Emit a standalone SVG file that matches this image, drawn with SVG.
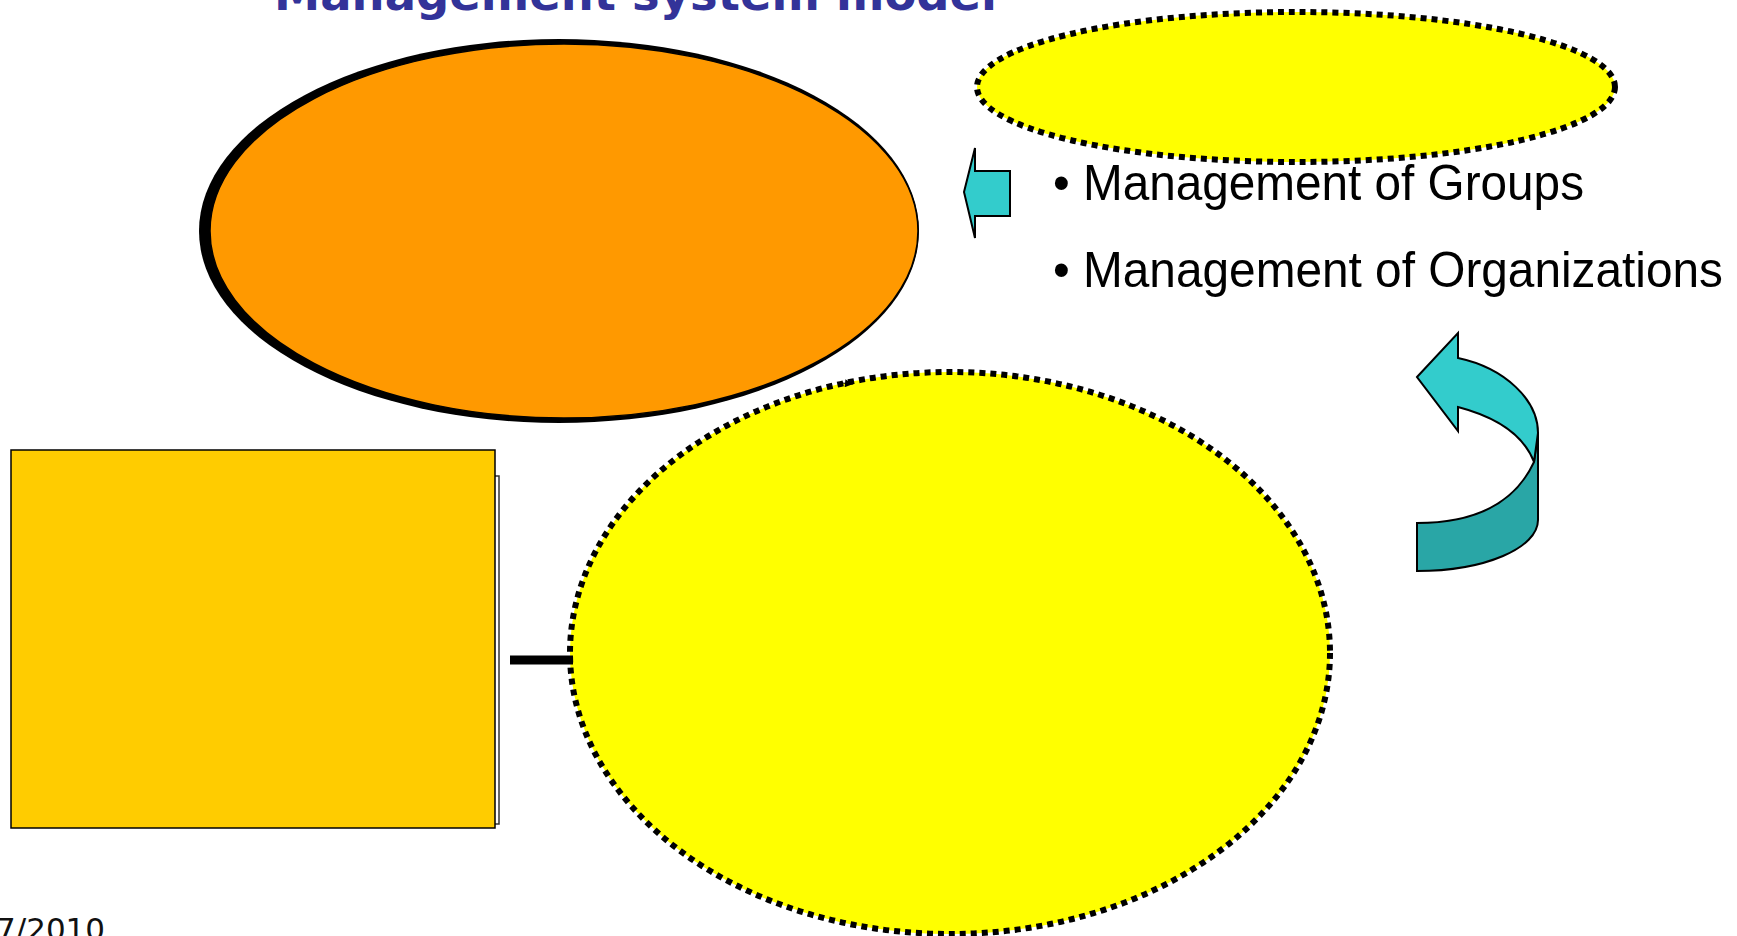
<svg xmlns="http://www.w3.org/2000/svg" width="1737" height="936" viewBox="0 0 1737 936">
<style>
.dot{fill:#FFFF00;stroke:#000;stroke-width:6;stroke-dasharray:6 5}
.cy{fill:#33CCCC;stroke:#000;stroke-width:2;stroke-linejoin:miter}
.bul{font-family:"Liberation Sans",Arial,sans-serif;font-size:50px;fill:#000}
</style>
<defs>
<marker id="ah" viewBox="0 0 10 10" refX="10" refY="5" markerWidth="10" markerHeight="8" markerUnits="userSpaceOnUse" orient="auto">
<path d="M0,0 L10,5 L0,10 Z" fill="#000"/>
</marker>
</defs>
<rect width="1737" height="936" fill="#fff"/>
<text x="274" y="10" font-family="'DejaVu Sans',Verdana,sans-serif" font-weight="bold" font-size="46" fill="#333399" textLength="723" lengthAdjust="spacingAndGlyphs">Management system model</text>
<g id="orange-ellipse">
<ellipse cx="559" cy="231" rx="360" ry="192" fill="#000"/>
<ellipse cx="564" cy="231" rx="354" ry="187" fill="#FF9900" stroke="#000" stroke-width="1.5"/>
</g>
<g id="top-yellow-ellipse">
<ellipse class="dot" cx="1296" cy="87" rx="319" ry="75"/>
</g>
<g id="left-arrow">
<path class="cy" d="M964,192 L975,148 L975,171 L1010,171 L1010,216 L975,216 L975,238 Z"/>
</g>
<g id="bullets">
<text class="bul" x="1053" y="200" textLength="531" lengthAdjust="spacingAndGlyphs">• Management of Groups</text>
<text class="bul" x="1053" y="287" textLength="670" lengthAdjust="spacingAndGlyphs">• Management of Organizations</text>
</g>
<g id="u-turn-arrow">
<path d="M1538,433 L1534,462 C1515,503 1475,523 1417,523 L1417,571 C1485,571 1538,548 1538,520 Z" fill="#29A6A6" stroke="#000" stroke-width="2"/>
<path class="cy" d="M1417,377 L1458,333 L1458,358 C1505,368 1538,400 1538,433 L1534,462 C1524,436 1500,418 1458,407 L1458,431 Z"/>
</g>
<g id="rect-node">
<rect x="20" y="476" width="479" height="348" fill="#fff" stroke="#333" stroke-width="1.5"/>
<rect x="11" y="450" width="484" height="378" fill="#FFCC00" stroke="#000" stroke-width="1.5"/>
</g>
<g id="big-yellow-circle">
<ellipse class="dot" cx="950" cy="653" rx="380" ry="281"/>
</g>
<g id="connectors">
<line x1="510" y1="660" x2="573" y2="660" stroke="#000" stroke-width="9"/>
<path d="M842,383 L853,384" stroke="#000" stroke-width="1" fill="none" marker-end="url(#ah)"/>
</g>
<text x="-4" y="940" font-family="'DejaVu Sans',Verdana,sans-serif" font-size="31" fill="#111">7/2010</text>
</svg>
